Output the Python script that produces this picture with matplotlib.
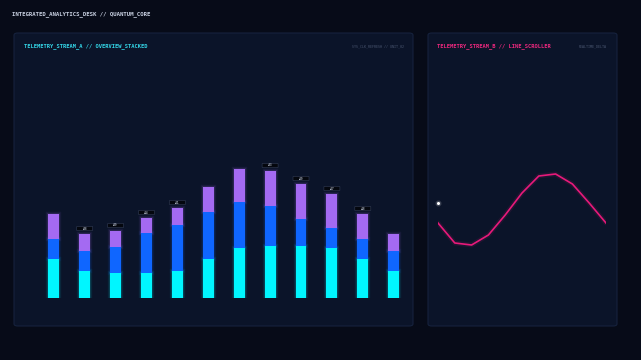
import numpy as np
import matplotlib
matplotlib.use("Agg")
import matplotlib.pyplot as plt
from matplotlib.patches import FancyBboxPatch

# ---- data ----
bar_idx = np.arange(12)
cyan_vals = [39, 27, 25, 25, 27, 39, 50, 52, 52, 50, 39, 27]
blue_vals = [20, 20, 26, 40, 46, 47, 46, 40, 27, 20, 20, 20]
purple_vals = [25, 17, 16, 15, 17, 25, 33, 35, 35, 34, 25, 17]
bar_tags = ["", "+08", "+09", "+14", "+21", "", "", "+33", "+29", "+27", "+18", ""]

line_x = np.arange(11)
line_y = [75, 55, 53, 63, 83, 105, 122, 124, 114, 95, 75]
cursor_y = 95

# ---- style ----
W, H = 641, 360
BG = "#070b18"
PANEL = "#0b1429"
EDGE = "#16223d"
C_CYAN = "#00f6ff"
C_BLUE = "#0f66ff"
C_PURPLE = "#a46af2"
C_PINK = "#e8197a"
MONO = "DejaVu Sans Mono"

fig = plt.figure(figsize=(W / 100, H / 100), dpi=100)
fig.patch.set_facecolor(BG)


def fx(px):
    return px / W


def fy(py):
    return 1 - py / H


def panel(x0, y0, x1, y1):
    p = FancyBboxPatch((fx(x0), fy(y1)), fx(x1 - x0), (y1 - y0) / H,
                       boxstyle="round,pad=0,rounding_size=0.006",
                       transform=fig.transFigure, facecolor=PANEL,
                       edgecolor=EDGE, linewidth=0.8, zorder=-5)
    fig.patches.append(p)


panel(14, 33, 413, 326)
panel(428, 33, 617, 326)

fig.text(fx(12), fy(14), "INTEGRATED_ANALYTICS_DESK // QUANTUM_CORE", color="#c9d1e2",
         fontsize=4.1, family=MONO, weight="bold", va="center")
fig.text(fx(24), fy(46), "TELEMETRY_STREAM_A // OVERVIEW_STACKED", color="#34d8ea",
         fontsize=3.9, family=MONO, weight="bold", va="center")
fig.text(fx(404), fy(46), "SYS_CLK_REFRESH // UNIT_02", color="#4a5670",
         fontsize=2.4, family=MONO, va="center", ha="right")
fig.text(fx(437), fy(46), "TELEMETRY_STREAM_B // LINE_SCROLLER", color="#f0287f",
         fontsize=3.9, family=MONO, weight="bold", va="center")
fig.text(fx(607), fy(46), "REALTIME_DELTA", color="#4a5670",
         fontsize=2.4, family=MONO, va="center", ha="right")

# ---- stacked bars ----
c0, c11 = 53.8, 393.7
step = (c11 - c0) / 11
top_px, bot_px = 60, 298
ax = fig.add_axes([fx(c0 - step / 2), fy(bot_px), fx(step * 12), (bot_px - top_px) / H])
ax.set_xlim(-0.5, 11.5)
ax.set_ylim(0, bot_px - top_px)
ax.axis("off")

bw = 0.35
b1 = np.array(cyan_vals)
b2 = b1 + np.array(blue_vals)
layers = [(cyan_vals, 0, C_CYAN), (blue_vals, b1, C_BLUE), (purple_vals, b2, C_PURPLE)]
for vals, base, col in layers:
    ax.bar(bar_idx, vals, bw, bottom=base, color="none", edgecolor=col,
           linewidth=3.2, alpha=0.08, zorder=1)
    ax.bar(bar_idx, vals, bw, bottom=base, color="none", edgecolor=col,
           linewidth=1.6, alpha=0.14, zorder=1)
for vals, base, col in layers:
    ax.bar(bar_idx, vals, bw, bottom=base, color=col, linewidth=0, zorder=2)

totals = b2 + np.array(purple_vals)
tag_w = 16 / step
for i, t in enumerate(bar_tags):
    if t:
        yc = totals[i] + 5.5
        ax.add_patch(FancyBboxPatch((i - tag_w / 2, yc - 2.2), tag_w, 4.4,
                                    boxstyle="round,pad=0,rounding_size=0.08",
                                    facecolor="#04070e", edgecolor="#333e58",
                                    linewidth=0.4, zorder=3, mutation_aspect=4))
        ax.text(i, yc, t, ha="center", va="center", color="#c3cbdb",
                fontsize=1.8, family=MONO, weight="bold", zorder=4)

# ---- line ----
lx0, lx1 = 438, 606
ax2 = fig.add_axes([fx(lx0), fy(bot_px), fx(lx1 - lx0), (bot_px - top_px) / H])
ax2.set_xlim(0, 10)
ax2.set_ylim(0, bot_px - top_px)
ax2.axis("off")
ax2.plot(line_x, line_y, color=C_PINK, linewidth=3.5, alpha=0.1, solid_capstyle="round")
ax2.plot(line_x, line_y, color=C_PINK, linewidth=1.2, solid_joinstyle="round")
ax2.plot([0], [cursor_y], marker="o", ms=3.5, color="white", alpha=0.12, clip_on=False)
ax2.plot([0], [cursor_y], marker="o", ms=1.2, color="white", clip_on=False)

fig.savefig("out.png", dpi=100, facecolor=BG)
